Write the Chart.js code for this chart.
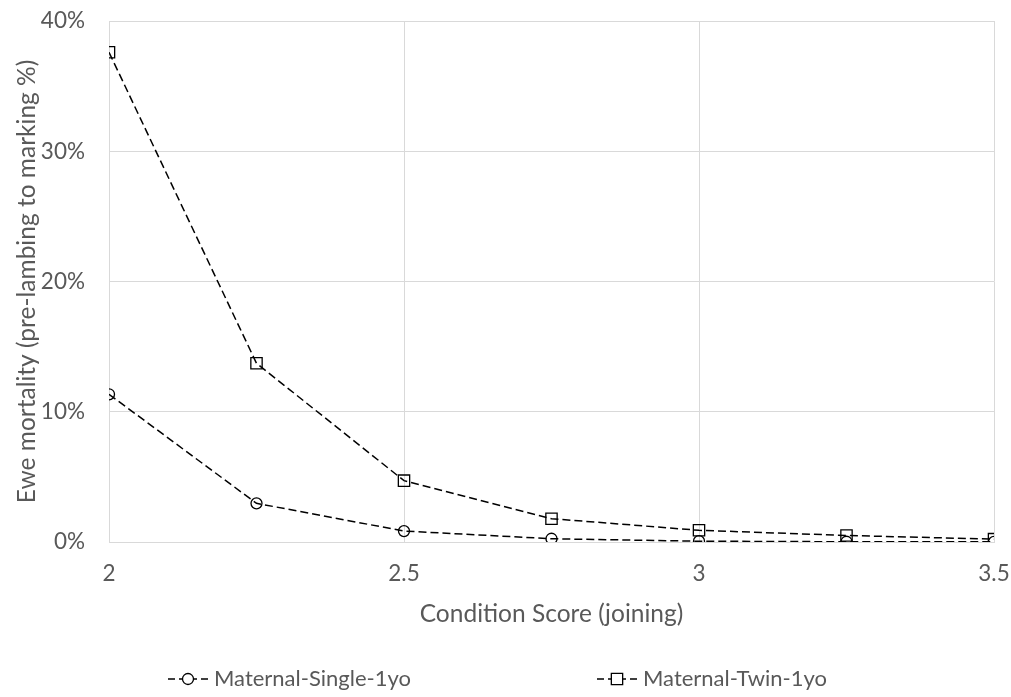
<!DOCTYPE html>
<html>
<head>
<meta charset="utf-8">
<script src="https://cdn.jsdelivr.net/npm/chart.js@4.4.1/dist/chart.umd.min.js"></script>
<style>
    html, body { margin: 0; padding: 0; background: #ffffff; }
    #wrap { width: 1011px; height: 697px; }
</style>
</head>
<body>
<div id="wrap"><canvas id="chart"></canvas></div>
<script>
// condition score at joining
const conditionScores = [2, 2.25, 2.5, 2.75, 3, 3.25, 3.5];
// ewe mortality, pre-lambing to marking (%)
const singleMortality = [11.34, 2.97, 0.84, 0.25, 0.06, 0.02, 0.01];
const twinMortality = [37.6, 13.72, 4.71, 1.79, 0.9, 0.5, 0.22];
const seriesNames = ['Maternal-Single-1yo', 'Maternal-Twin-1yo'];

const textColor = '#595959';
const gridColor = '#d9d9d9';
const fontFamily = 'Lato, "Open Sans", sans-serif';

const toPoints = (values) => values.map((v, i) => ({x: conditionScores[i], y: v}));

const makeSeries = (label, values, shape) => {
    return {
        label: label,
        data: toPoints(values),
        borderColor: '#000000',
        borderWidth: 1.5,
        borderDash: [8, 4],
        pointStyle: shape,
        pointRadius: shape === 'rect' ? 8 : 5.5,
        pointBorderWidth: 1.3,
        pointBorderColor: '#000000',
        pointBackgroundColor: 'rgba(0,0,0,0)',
        fill: false,
        tension: 0
    }
}

// tick labels may hang past the plot edges, don't let them shrink it
const noOverhang = (scale) => {
    scale.paddingTop = 0;
    scale.paddingBottom = 0;
    scale.paddingLeft = 0;
    scale.paddingRight = 0;
}

// legend drawn by hand so each entry looks like a dashed line with its marker
const legendColumns = [168, 597];
const legendY = 679;
const lineLegend = {
    id: 'lineLegend',
    afterDraw(chart) {
        const ctx = chart.ctx;
        ctx.save();
        chart.data.datasets.forEach((ds, i) => {
            const x0 = legendColumns[i];
            ctx.strokeStyle = ds.borderColor;
            ctx.lineWidth = ds.borderWidth;
            ctx.setLineDash([7, 4]);
            ctx.beginPath();
            ctx.moveTo(x0, legendY);
            ctx.lineTo(x0 + 40, legendY);
            ctx.stroke();
            ctx.setLineDash([]);
            ctx.lineWidth = ds.pointBorderWidth;
            ctx.fillStyle = '#ffffff';
            Chart.helpers.drawPoint(ctx, {
                pointStyle: ds.pointStyle,
                radius: ds.pointRadius,
                borderWidth: ds.pointBorderWidth,
                rotation: 0
            }, x0 + 20, legendY);
            ctx.fillStyle = textColor;
            ctx.font = `22px ${fontFamily}`;
            ctx.textBaseline = 'middle';
            ctx.textAlign = 'left';
            ctx.fillText(ds.label, x0 + 46, legendY);
        });
        ctx.restore();
    }
}

const ctx = document.getElementById('chart').getContext('2d');
const chart = new Chart(ctx, {
    type: 'line',
    data: {
        datasets: [
            makeSeries(seriesNames[0], singleMortality, 'circle'),
            makeSeries(seriesNames[1], twinMortality, 'rect')
        ]
    },
    options: {
        responsive: true,
        maintainAspectRatio: false,
        animation: false,
        layout: {
            padding: {top: 21, right: 17, bottom: 65, left: 0}
        },
        plugins: {
            legend: {display: false},
            tooltip: {enabled: false}
        },
        scales: {
            x: {
                type: 'linear',
                min: 2,
                max: 3.5,
                ticks: {
                    stepSize: 0.5,
                    padding: 18,
                    color: textColor,
                    font: {family: fontFamily, size: 22.5},
                    callback: (v) => String(v)
                },
                grid: {color: gridColor, lineWidth: 1, drawTicks: false},
                border: {color: gridColor},
                title: {
                    display: true,
                    text: 'Condition Score (joining)',
                    color: textColor,
                    font: {family: fontFamily, size: 24.5},
                    padding: {top: 0, bottom: 3}
                },
                afterFit: (scale) => {
                    scale.height = 90;
                    noOverhang(scale);
                }
            },
            y: {
                min: 0,
                max: 40,
                ticks: {
                    stepSize: 10,
                    padding: 24,
                    color: textColor,
                    font: {family: fontFamily, size: 22.5},
                    callback: (v) => v + '%'
                },
                grid: {color: gridColor, lineWidth: 1, drawTicks: false},
                border: {color: gridColor},
                title: {
                    display: true,
                    text: 'Ewe mortality (pre-lambing to marking %)',
                    color: textColor,
                    font: {family: fontFamily, size: 24.5},
                    padding: {top: 12, bottom: 0}
                },
                afterFit: (scale) => {
                    scale.width = 109;
                    noOverhang(scale);
                }
            }
        }
    },
    plugins: [lineLegend]
});
</script>
</body>
</html>
